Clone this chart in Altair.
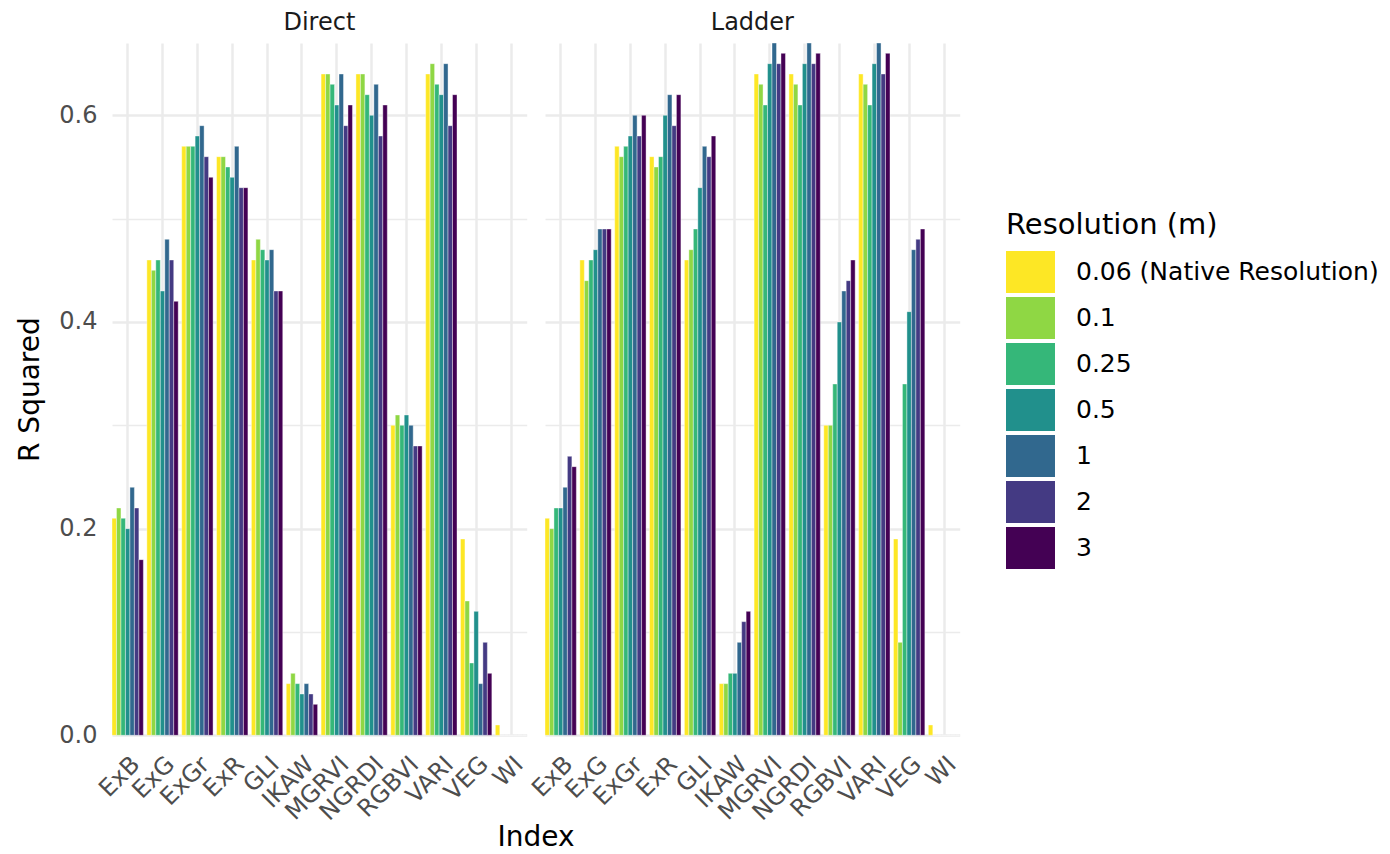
import altair as alt
import pandas as pd

indices = ["ExB", "ExG", "ExGr", "ExR", "GLI", "IKAW", "MGRVI", "NGRDI", "RGBVI", "VARI", "VEG", "WI"]
resolutions = ["0.06 (Native Resolution)", "0.1", "0.25", "0.5", "1", "2", "3"]
methods = ["Direct", "Ladder"]

direct_ExB = [0.21, 0.22, 0.21, 0.20, 0.24, 0.22, 0.17]
direct_ExG = [0.46, 0.45, 0.46, 0.43, 0.48, 0.46, 0.42]
direct_ExGr = [0.57, 0.57, 0.57, 0.58, 0.59, 0.56, 0.54]
direct_ExR = [0.56, 0.56, 0.55, 0.54, 0.57, 0.53, 0.53]
direct_GLI = [0.46, 0.48, 0.47, 0.46, 0.47, 0.43, 0.43]
direct_IKAW = [0.05, 0.06, 0.05, 0.04, 0.05, 0.04, 0.03]
direct_MGRVI = [0.64, 0.64, 0.63, 0.61, 0.64, 0.59, 0.61]
direct_NGRDI = [0.64, 0.64, 0.62, 0.60, 0.63, 0.58, 0.61]
direct_RGBVI = [0.30, 0.31, 0.30, 0.31, 0.30, 0.28, 0.28]
direct_VARI = [0.64, 0.65, 0.63, 0.62, 0.65, 0.59, 0.62]
direct_VEG = [0.19, 0.13, 0.07, 0.12, 0.05, 0.09, 0.06]
direct_WI = [0.01, 0.0, 0.0, 0.0, 0.0, 0.0, 0.0]

ladder_ExB = [0.21, 0.20, 0.22, 0.22, 0.24, 0.27, 0.26]
ladder_ExG = [0.46, 0.44, 0.46, 0.47, 0.49, 0.49, 0.49]
ladder_ExGr = [0.57, 0.56, 0.57, 0.58, 0.60, 0.58, 0.60]
ladder_ExR = [0.56, 0.55, 0.56, 0.60, 0.62, 0.59, 0.62]
ladder_GLI = [0.46, 0.47, 0.49, 0.53, 0.57, 0.56, 0.58]
ladder_IKAW = [0.05, 0.05, 0.06, 0.06, 0.09, 0.11, 0.12]
ladder_MGRVI = [0.64, 0.63, 0.61, 0.65, 0.67, 0.65, 0.66]
ladder_NGRDI = [0.64, 0.63, 0.61, 0.65, 0.67, 0.65, 0.66]
ladder_RGBVI = [0.30, 0.30, 0.34, 0.40, 0.43, 0.44, 0.46]
ladder_VARI = [0.64, 0.63, 0.61, 0.65, 0.67, 0.64, 0.66]
ladder_VEG = [0.19, 0.09, 0.34, 0.41, 0.47, 0.48, 0.49]
ladder_WI = [0.01, 0.0, 0.0, 0.0, 0.0, 0.0, 0.0]

direct_vals = [direct_ExB, direct_ExG, direct_ExGr, direct_ExR, direct_GLI, direct_IKAW,
               direct_MGRVI, direct_NGRDI, direct_RGBVI, direct_VARI, direct_VEG, direct_WI]
ladder_vals = [ladder_ExB, ladder_ExG, ladder_ExGr, ladder_ExR, ladder_GLI, ladder_IKAW,
               ladder_MGRVI, ladder_NGRDI, ladder_RGBVI, ladder_VARI, ladder_VEG, ladder_WI]

colors = ["#FDE725", "#8FD744", "#35B779", "#21908C", "#31688E", "#443A83", "#440154"]
y_ticks = [0.0, 0.1, 0.2, 0.3, 0.4, 0.5, 0.6]

rows = []
for method, table in (("Direct", direct_vals), ("Ladder", ladder_vals)):
    for idx, vals in zip(indices, table):
        for res, v in zip(resolutions, vals):
            rows.append({"Method": method, "Index": idx, "Resolution": res, "R2": v})
df = pd.DataFrame(rows)

FONT = "DejaVu Sans"
major = "round(datum.value*10) % 2 == 0"

base = alt.Chart(df).mark_bar(stroke="white", strokeWidth=0.4).encode(
    x=alt.X("Index:N", sort=indices,
            scale=alt.Scale(paddingInner=0.1, paddingOuter=0),
            axis=alt.Axis(title=None, labelAngle=-45, grid=True, ticks=False, domain=False,
                          labelFontSize=24, labelColor="#4D4D4D", labelFont=FONT,
                          gridColor="#EBEBEB", gridWidth=2.5, labelPadding=16)),
    xOffset=alt.XOffset("Resolution:N", sort=resolutions,
                        scale=alt.Scale(paddingInner=0, paddingOuter=0)),
    y=alt.Y("R2:Q", scale=alt.Scale(domain=[0, 0.67], nice=False, zero=True),
            axis=alt.Axis(title="R Squared", values=y_ticks, format=".1f",
                          labelExpr=f"{major} ? datum.label : ''",
                          ticks=False, domain=False, labelFontSize=24, labelColor="#4D4D4D",
                          labelFont=FONT, labelPadding=14,
                          gridColor="#EBEBEB",
                          gridWidth={"condition": {"test": major, "value": 2.5}, "value": 1.3},
                          titleFontSize=28, titleFont=FONT, titleFontWeight="normal",
                          titleColor="black", titlePadding=14)),
    color=alt.Color("Resolution:N", sort=resolutions,
                    scale=alt.Scale(domain=resolutions, range=colors),
                    legend=alt.Legend(title="Resolution (m)", titleFontSize=29, titleFont=FONT,
                                      titleFontWeight="normal", titleColor="black",
                                      titleLimit=1000,
                                      titlePadding=11, labelFontSize=25, labelFont=FONT,
                                      labelColor="black", labelLimit=0, labelOffset=28,
                                      symbolType="M-1,-1H1.333V1H-1Z", symbolSize=1764,
                                      symbolStrokeWidth=0, symbolOpacity=1, rowPadding=4,
                                      orient="none", legendX=894, legendY=168)),
).properties(width=414.7, height=692.3)

chart = base.facet(
    column=alt.Column("Method:N", sort=methods,
                      header=alt.Header(title="Index", titleOrient="bottom", labelOrient="top",
                                        labelFontSize=24, labelFont=FONT, labelColor="#1A1A1A",
                                        labelPadding=7, titleFontSize=28, titleFont=FONT,
                                        titleFontWeight="normal", titleColor="black",
                                        titlePadding=-11)),
    spacing=17,
).configure_view(stroke=None).properties(
    padding={"left": 8, "top": 3, "right": 0, "bottom": 0}, background="white")

chart.save("out.html", embed_options={"renderer": "svg", "actions": False})
